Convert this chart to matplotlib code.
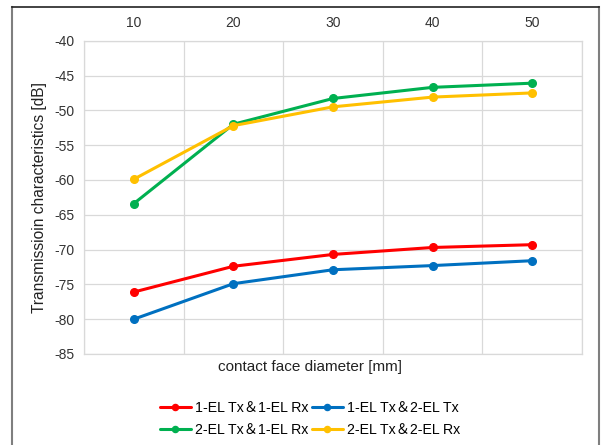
import matplotlib
matplotlib.use("Agg")
import matplotlib.pyplot as plt
from matplotlib.lines import Line2D
import numpy as np

plt.rcParams['font.family'] = ['Liberation Sans', 'Noto Sans CJK JP', 'DejaVu Sans']

categories = ["10", "20", "30", "40", "50"]
series_names = ["1-EL Tx＆1-EL Rx", "1-EL Tx＆2-EL Tx", "2-EL Tx＆1-EL Rx", "2-EL Tx＆2-EL Rx"]
red_vals = [-76.1, -72.4, -70.7, -69.7, -69.3]
blue_vals = [-80.0, -74.9, -72.9, -72.3, -71.6]
green_vals = [-63.4, -52.0, -48.3, -46.7, -46.1]
yellow_vals = [-59.9, -52.2, -49.5, -48.1, -47.5]
colors = ["#FF0000", "#0070C0", "#00B050", "#FFC000"]
yticks = [-40, -45, -50, -55, -60, -65, -70, -75, -80, -85]

W, H = 601, 445
fig = plt.figure(figsize=(W / 100, H / 100), dpi=100)
ax = fig.add_axes([84 / W, 1 - 354 / H, (582 - 84) / W, (354 - 40.7) / H])

x = np.arange(len(categories))
handles = []
for vals, c, name in zip([red_vals, blue_vals, green_vals, yellow_vals], colors, series_names):
    h, = ax.plot(x, vals, color=c, lw=2.2, marker='o', ms=5.5, label=name, solid_capstyle='round')
    handles.append(h)

ax.set_xlim(-0.5, len(categories) - 0.5)
ax.set_ylim(-85, -40)
ax.set_yticks(yticks)
ax.set_yticklabels([str(v) for v in yticks], fontsize=10, color='#333333')
ax.set_xticks(x)
ax.set_xticklabels(categories, fontsize=10, color='#333333')
ax.xaxis.tick_top()
ax.set_xticks(np.arange(-0.5, len(categories), 1.0), minor=True)
ax.tick_params(axis='both', which='both', length=0, pad=7)
ax.tick_params(axis='x', which='major', pad=8)
ax.grid(True, which='minor', axis='x', color='#D9D9D9', lw=0.9)
ax.grid(True, which='major', axis='y', color='#D9D9D9', lw=0.9)
ax.grid(False, which='major', axis='x')
for s in ax.spines.values():
    s.set_color('#D9D9D9')
    s.set_linewidth(0.9)
ax.set_axisbelow(True)

ax.set_ylabel("Transmissioin characteristics [dB]", fontsize=11.2, color='#222222')
ax.yaxis.set_label_coords((47 - 84) / (582 - 84), 0.5)
fig.text(310 / W, 1 - 367 / H, "contact face diameter [mm]", fontsize=11, color='#222222',
         ha='center', va='center')

# row-major order like the reference: row1 red, blue; row2 green, yellow
order = [0, 2, 1, 3]
fig.legend([handles[i] for i in order], [series_names[i] for i in order], ncol=2, loc='center',
           bbox_to_anchor=(310 / W, 1 - 419 / H), frameon=False, fontsize=10.2,
           handlelength=2.2, handletextpad=0.3, columnspacing=0.2, labelspacing=0.55,
           markerscale=0.8)

# chart border
fig.add_artist(Line2D([12 / W, 12 / W], [0, 1 - 7 / H], color='#7F7F7F', lw=1.5, transform=fig.transFigure))
fig.add_artist(Line2D([599 / W, 599 / W], [0, 1 - 7 / H], color='#7F7F7F', lw=1.5, transform=fig.transFigure))
fig.add_artist(Line2D([12 / W, 599 / W], [1 - 7 / H, 1 - 7 / H], color='#222222', lw=1.2, transform=fig.transFigure))

fig.savefig("out.png", dpi=100)
